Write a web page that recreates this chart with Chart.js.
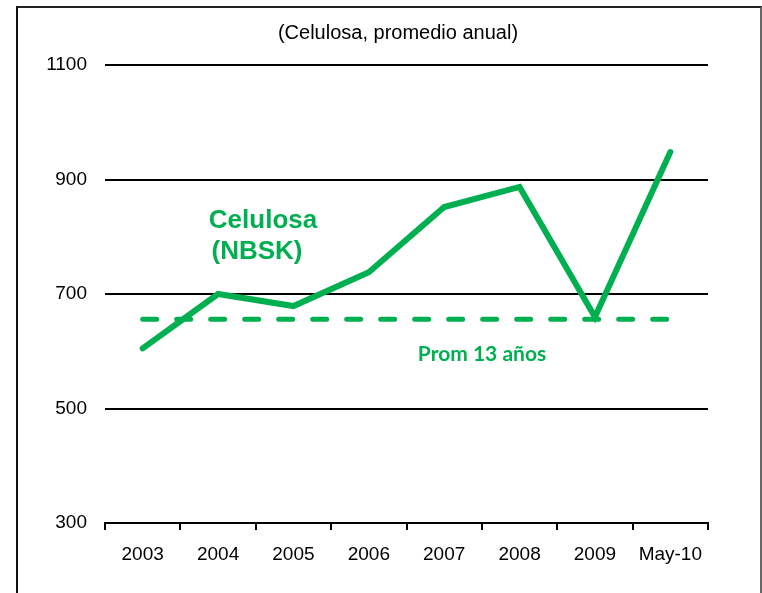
<!DOCTYPE html>
<html lang="es">
<head>
    <meta charset="UTF-8">
    <title>Celulosa NBSK</title>
    <script src="https://cdn.jsdelivr.net/npm/chart.js"></script>
    <style>
        html, body {
            margin: 0;
            padding: 0;
            background: #fff;
            overflow: hidden;
        }
        #frame {
            position: absolute;
            left: 16px;
            top: 6px;
            width: 742px;
            height: 600px;
            border-left: 2px solid #111;
            border-top: 2px solid #222;
            border-right: 2px solid #666;
        }
        #chart {
            position: absolute;
            left: 0;
            top: 0;
        }
    </style>
</head>
<body>
    <div id="frame"></div>
    <canvas id="chart" width="762" height="593"></canvas>

    <script>
        // datos
        const categories = ["2003", "2004", "2005", "2006", "2007", "2008", "2009", "May-10"];
        const celulosa = [605, 700, 679, 738, 852, 887, 660, 948];
        const promedio = [656, 656, 656, 656, 656, 656, 656, 656];
        const yTicks = [300, 500, 700, 900, 1100];

        const green = '#00B050';

        // textos sobre el grafico
        const textPlugin = {
            id: 'texts',
            afterDraw(chart) {
                const ctx = chart.ctx;
                ctx.save();
                ctx.textAlign = 'center';
                ctx.textBaseline = 'middle';

                ctx.fillStyle = '#000';
                ctx.font = '20px "Liberation Sans", Arial, sans-serif';
                ctx.fillText('(Celulosa, promedio anual)', 398, 33);

                ctx.fillStyle = green;
                ctx.font = 'bold 26px "Liberation Sans", Arial, sans-serif';
                ctx.fillText('Celulosa', 263, 221);
                ctx.fillText('(NBSK)', 257, 252);

                ctx.font = 'bold 21px Lato, "Open Sans", sans-serif';
                ctx.fillText('Prom 13 años', 482, 354);
                ctx.restore();
            }
        };

        new Chart(document.getElementById('chart'), {
            type: 'line',
            data: {
                labels: categories,
                datasets: [
                    {
                        data: promedio,
                        borderColor: green,
                        borderWidth: 5,
                        borderDash: [14, 20],
                        borderCapStyle: 'round',
                        pointRadius: 0,
                        tension: 0
                    },
                    {
                        data: celulosa,
                        borderColor: green,
                        borderWidth: 6,
                        borderCapStyle: 'round',
                        borderJoinStyle: 'miter',
                        pointRadius: 0,
                        tension: 0
                    }
                ]
            },
            options: {
                responsive: false,
                animation: false,
                layout: {
                    padding: { left: 0, right: 54, top: 65, bottom: 0 }
                },
                plugins: {
                    legend: { display: false },
                    tooltip: { enabled: false }
                },
                scales: {
                    x: {
                        offset: true,
                        afterFit(scale) { scale.height = 70; },
                        grid: {
                            offset: true,
                            drawOnChartArea: false,
                            drawTicks: true,
                            tickLength: 7,
                            color: '#000',
                            lineWidth: 2
                        },
                        border: { display: true, color: '#000', width: 2 },
                        ticks: {
                            color: '#000',
                            padding: 13,
                            maxRotation: 0,
                            font: { family: '"Liberation Sans", Arial, sans-serif', size: 19 }
                        }
                    },
                    y: {
                        min: 300,
                        max: 1100,
                        afterFit(scale) { scale.width = 105; },
                        afterBuildTicks(scale) {
                            scale.ticks = yTicks.map(v => ({ value: v }));
                        },
                        grid: {
                            color: '#000',
                            lineWidth: 2,
                            drawTicks: false
                        },
                        border: { display: false },
                        ticks: {
                            color: '#000',
                            padding: 18,
                            callback: v => String(v),
                            font: { family: '"Liberation Sans", Arial, sans-serif', size: 19 }
                        }
                    }
                }
            },
            plugins: [textPlugin]
        });
    </script>
</body>
</html>
